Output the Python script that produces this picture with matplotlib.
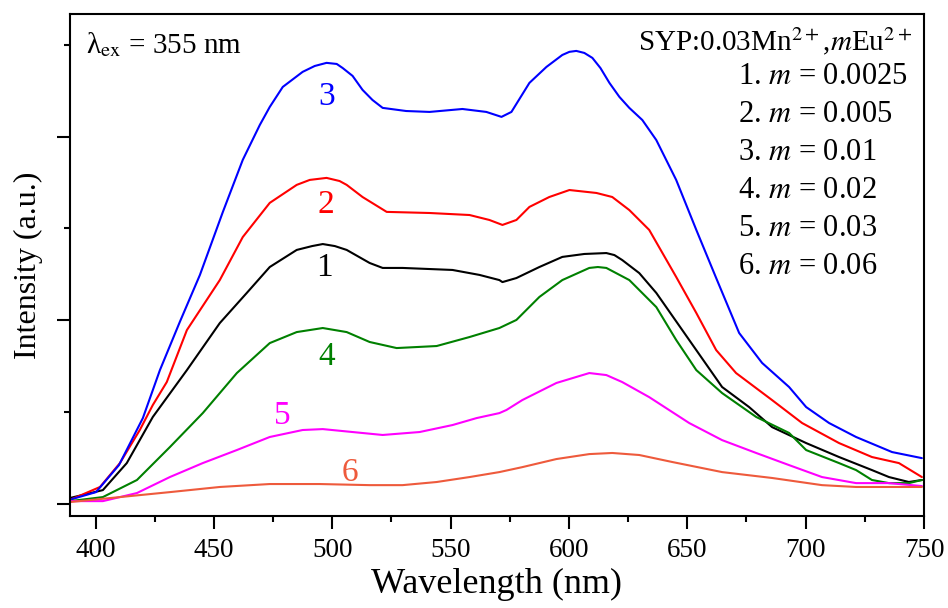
import matplotlib
matplotlib.use("Agg")
import matplotlib.pyplot as plt
from matplotlib.ticker import MultipleLocator, NullFormatter

plt.rcParams['font.family'] = ['Liberation Serif', 'DejaVu Serif']
plt.rcParams['mathtext.fontset'] = 'stix'

# Curve 1 (m = 0.0025), black
wl1 = [389.2, 403.1, 413.2, 424.2, 438.6, 452.5, 463.9, 473.6, 485, 491.5, 496, 501.1, 506.1, 515.8, 521.3,
       529.7, 550.8, 562.2, 570.6, 571.9, 577.8, 587.5, 597.2, 606.5, 615.8, 619.2, 622.5, 629.7, 636.9,
       650.8, 664.7, 676.1, 685.8, 700.2, 714.1, 728, 735.2, 743.6, 749.1]
i1 = [33, 76, 223, 474, 729, 985, 1149, 1290, 1383, 1404, 1415, 1404, 1383, 1312, 1285,
      1285, 1274, 1247, 1219, 1208, 1230, 1290, 1345, 1361, 1366, 1355, 1328, 1257, 1149,
      893, 637, 528, 419, 332, 256, 185, 147, 120, 131]

# Curve 2 (m = 0.005), red
wl2 = [390, 401.9, 410.3, 418.7, 424.2, 430.1, 438.6, 452.5, 462.2, 473.6, 485, 490.5, 497.6, 503.1, 506.1,
       512.8, 523, 541.1, 558, 566.4, 571.9, 577.8, 583.3, 591.7, 600.2, 611.6, 618.3, 625.5, 633.9,
       645.3, 653.8, 662.2, 670.6, 685.8, 698.5, 714.1, 728, 739.4, 749.1]
i2 = [27, 93, 223, 403, 539, 664, 947, 1219, 1453, 1639, 1737, 1764, 1775, 1758, 1737,
      1671, 1590, 1584, 1573, 1546, 1519, 1546, 1617, 1671, 1709, 1693, 1671, 1600, 1492,
      1236, 1040, 838, 713, 566, 441, 332, 256, 223, 147]

# Curve 3 (m = 0.01), blue
wl3 = [390, 400.2, 409.9, 420, 427.2, 435.6, 444.1, 453.8, 462.2, 469.4, 473.6, 479.1, 487.5, 492.6, 497.6,
       501.9, 504.4, 508.6, 512.8, 517.0, 521.3, 531.2, 541.1, 555, 565.1, 571.5, 575.7, 583.3, 590.5,
       597.2, 600.2, 603.1, 606.5, 609.9, 613.3, 617.1, 621.3, 625.5, 631, 636.9, 645.3, 653.8, 662.2,
       671.9, 681.6, 693, 700.2, 709.9, 721.3, 736.5, 749.1]
i3 = [27, 65, 212, 468, 729, 991, 1247, 1590, 1873, 2063, 2161, 2270, 2352, 2384, 2401,
      2395, 2373, 2330, 2254, 2199, 2156, 2139, 2134, 2150, 2134, 2107, 2134, 2292, 2379,
      2444, 2461, 2466, 2455, 2428, 2373, 2292, 2216, 2156, 2090, 1981, 1764, 1492, 1230,
      931, 768, 637, 528, 441, 365, 283, 250]

# Curve 4 (m = 0.02), green
wl4 = [389.2, 403.1, 417.5, 431.4, 445.3, 459.7, 473.6, 485, 496, 506.1, 515.8, 527.2, 544.1, 558, 570.6,
       577.8, 587.5, 597.2, 608.6, 612.2, 615.8, 625.5, 636.9, 645.3, 653.8, 664.7, 679.1, 693, 700.2,
       714.1, 721.3, 728, 735.2, 743.6, 749.1]
i4 = [16, 38, 131, 310, 495, 713, 876, 936, 958, 936, 882, 849, 860, 909, 958,
      1002, 1127, 1219, 1285, 1290, 1285, 1219, 1072, 893, 729, 604, 474, 387, 294,
      223, 185, 131, 114, 114, 131]

# Curve 5 (m = 0.03), magenta
wl5 = [389.2, 403.1, 417.5, 431.4, 445.3, 459.7, 473.6, 487.5, 496, 508.6, 521.3, 536.9, 550.8, 561, 570.6,
       573.6, 580.3, 594.7, 608.6, 615.8, 622.5, 633.9, 650.8, 664.7, 679.1, 693, 706.9, 721.3, 735.2, 749.1]
i5 = [16, 16, 60, 147, 223, 294, 365, 403, 408, 392, 376, 392, 430, 468, 495,
      512, 566, 659, 713, 702, 664, 582, 441, 348, 278, 212, 147, 114, 114, 98]

# Curve 6 (m = 0.06), orange-red
wl6 = [389.2, 410.3, 431.4, 452.5, 473.6, 494.7, 515.8, 529.7, 544.1, 558, 570.6, 580.3, 594.7, 608.6,
       618.3, 629.7, 643.6, 664.7, 685.8, 706.9, 721.3, 749.1]
i6 = [11, 38, 65, 93, 109, 109, 103, 103, 120, 147, 174, 201, 245, 272,
      278, 267, 229, 174, 142, 103, 93, 93]

series = [(wl1, i1, 'black'), (wl2, i2, '#ff0000'), (wl3, i3, '#0000ff'),
          (wl4, i4, '#008000'), (wl5, i5, '#ff00ff'), (wl6, i6, '#ee5a3c')]

curve_labels = ['1', '2', '3', '4', '5', '6']
label_x = [496.8, 497.2, 497.6, 497.6, 479.1, 507.3]
label_y = [1285, 1628, 2216, 800, 479, 169]

legend_lines = [r'1. $m$ = 0.0025', r'2. $m$ = 0.005', r'3. $m$ = 0.01',
                r'4. $m$ = 0.02', r'5. $m$ = 0.03', r'6. $m$ = 0.06']

fig = plt.figure(figsize=(9.48, 6.08), dpi=100)
ax = fig.add_axes([0.0738, 0.1513, 0.9009, 0.8257])

for (x, y, c) in series:
    ax.plot(x, y, color=c, lw=1.5, solid_joinstyle='round', solid_capstyle='round')

for lab, lx, ly, (_, _, c) in zip(curve_labels, label_x, label_y, series):
    ax.text(lx, ly, lab, color=c, fontsize=24, ha='center', va='center')

ax.set_xlim(389.2, 750)
ax.set_ylim(-65, 2667)
ax.xaxis.set_major_locator(MultipleLocator(50))
ax.xaxis.set_minor_locator(MultipleLocator(25))
ax.yaxis.set_major_locator(MultipleLocator(1000))
ax.yaxis.set_minor_locator(MultipleLocator(500))
ax.yaxis.set_major_formatter(NullFormatter())
ax.tick_params(which='both', direction='out', width=1.5, labelsize=19.5, top=False, right=False)
ax.tick_params(which='major', length=9.5, pad=6)
ax.tick_params(which='minor', length=4.5)
for s in ax.spines.values():
    s.set_linewidth(1.5)

ax.set_xlabel('Wavelength (nm)', fontsize=26, labelpad=4)
ax.set_ylabel('Intensity (a.u.)', fontsize=23, labelpad=4)

ax.text(0.0187, 0.938, r'λ$_{\mathrm{ex}}$ = 355 nm', transform=ax.transAxes, fontsize=21,
        ha='left', va='center')
ax.text(0.986, 0.946, r'SYP:0.03Mn$^{2+}$,$m$Eu$^{2+}$', transform=ax.transAxes, fontsize=21,
        ha='right', va='center')
for k, t in enumerate(legend_lines):
    ypx = 77 + 38 * k
    yfrac = (516 - ypx) / (516 - 14)
    ax.text((738 - 70) / 854, yfrac, t, transform=ax.transAxes, fontsize=22, ha='left', va='center')

fig.savefig('out.png', dpi=100)
